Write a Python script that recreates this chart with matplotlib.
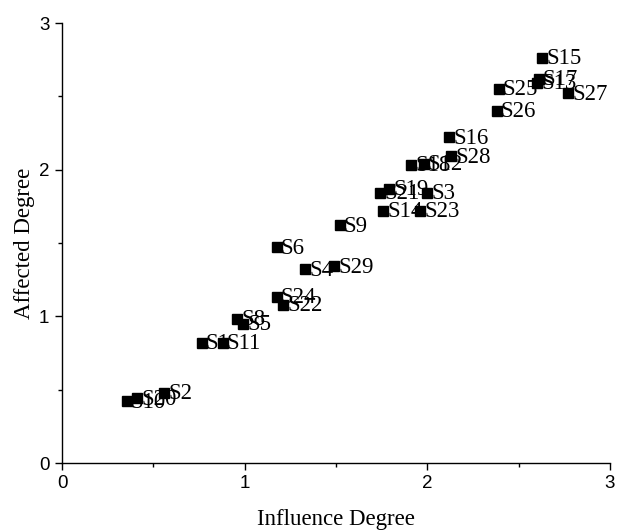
import matplotlib
matplotlib.use("Agg")
import matplotlib.pyplot as plt
from matplotlib.ticker import MultipleLocator

labels = ["S15", "S17", "S13", "S25", "S26", "S27", "S16", "S28", "S18", "S12",
          "S19", "S21", "S3", "S14", "S23", "S9", "S6", "S4", "S29", "S24",
          "S22", "S8", "S5", "S1", "S11", "S10", "S20", "S2"]
influence = [2.63, 2.61, 2.60, 2.39, 2.38, 2.77, 2.12, 2.13, 1.91, 1.98,
             1.79, 1.74, 2.00, 1.76, 1.96, 1.52, 1.175, 1.33, 1.49, 1.175,
             1.21, 0.96, 0.99, 0.765, 0.88, 0.354, 0.41, 0.56]
affected = [2.76, 2.62, 2.59, 2.55, 2.40, 2.52, 2.22, 2.09, 2.03, 2.04,
            1.87, 1.84, 1.84, 1.72, 1.72, 1.62, 1.47, 1.32, 1.34, 1.13,
            1.08, 0.98, 0.95, 0.82, 0.82, 0.42, 0.44, 0.48]

fig = plt.figure(figsize=(6.19, 5.31), dpi=100)
ax = fig.add_axes([62/619, 68/531, 548/619, 440/531])

ax.plot(influence, affected, linestyle="none", marker="s", markersize=6.5,
        color="black")
for lab, x, y in zip(labels, influence, affected):
    ax.annotate(lab, (x, y), xytext=(3, -0.5), textcoords="offset points",
                va="center", ha="left", fontsize=16.5,
                family="Liberation Serif", color="black")

ax.set_xlim(0, 3)
ax.set_ylim(0, 3)
ax.xaxis.set_major_locator(MultipleLocator(1))
ax.yaxis.set_major_locator(MultipleLocator(1))
ax.xaxis.set_minor_locator(MultipleLocator(0.5))
ax.yaxis.set_minor_locator(MultipleLocator(0.5))
for s in ["top", "right"]:
    ax.spines[s].set_visible(False)
for s in ["left", "bottom"]:
    ax.spines[s].set_linewidth(1.0)
ax.tick_params(which="major", direction="out", length=5, width=1,
               labelsize=13.5, pad=4)
ax.tick_params(which="minor", direction="out", length=3, width=1)
for t in ax.get_xticklabels() + ax.get_yticklabels():
    t.set_family("Liberation Sans")

ax.set_xlabel("Influence Degree", family="Liberation Serif", fontsize=16.5,
              labelpad=12)
ax.set_ylabel("Affected Degree", family="Liberation Serif", fontsize=16.5,
              labelpad=3)

fig.savefig("out.png", dpi=100)
